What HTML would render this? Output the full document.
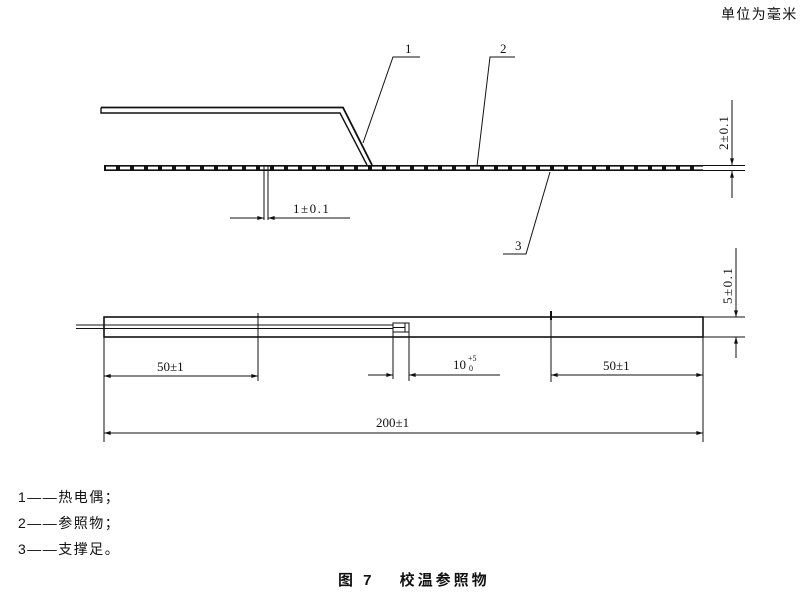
<!DOCTYPE html>
<html><head><meta charset="utf-8"><style>
html,body{margin:0;padding:0;background:#fff;}
svg{display:block}
text{font-family:"Liberation Serif","Noto Serif CJK SC",serif;fill:#111}
.c{font-family:"Liberation Sans","Noto Sans CJK SC",sans-serif}
</style></head><body>
<svg width="809" height="596" viewBox="0 0 809 596" xmlns="http://www.w3.org/2000/svg">
<defs>
<marker id="a" viewBox="0 0 10 6" refX="10" refY="3" markerWidth="8" markerHeight="4" orient="auto-start-reverse" markerUnits="userSpaceOnUse"><path d="M0,0L10,3L0,6z" fill="#111"/></marker>
</defs>
<g stroke="#111" fill="none">
<text x="721" y="19" class="c" font-size="14" letter-spacing="1.3" stroke="none">单位为毫米</text>
<path d="M101,107.5 H343 L372,165" stroke-width="1.8"/>
<path d="M101,107.5 V113 H340 L367,165" stroke-width="1.4"/>
<rect x="104" y="165" width="599" height="6" fill="#111" stroke="none"/>
<line x1="106" y1="168" x2="703" y2="168" stroke="#fff" stroke-width="2.8" stroke-dasharray="10,4"/>
<line x1="703" y1="165.5" x2="745" y2="165.5" stroke-width="1"/>
<line x1="703" y1="170.5" x2="745" y2="170.5" stroke-width="1"/>
<polyline points="363,143 393,57 420,57" stroke-width="1"/>
<text x="405" y="53" font-size="13" stroke="none">1</text>
<polyline points="477,166 490,57 515,57" stroke-width="1"/>
<text x="500" y="53" font-size="13" stroke="none">2</text>
<polyline points="550,172 526,254 503,254" stroke-width="1"/>
<text x="515" y="250" font-size="13" stroke="none">3</text>
<line x1="732" y1="100" x2="732" y2="165" stroke-width="1" marker-end="url(#a)"/>
<line x1="732" y1="198" x2="732" y2="171" stroke-width="1" marker-end="url(#a)"/>
<text transform="translate(728,150) rotate(-90)" font-size="13" letter-spacing="1" stroke="none">2±0.1</text>
<line x1="264" y1="166" x2="264" y2="220" stroke-width="1"/>
<line x1="268" y1="166" x2="268" y2="220" stroke-width="1"/>
<line x1="230" y1="218" x2="264" y2="218" stroke-width="1" marker-end="url(#a)"/>
<line x1="350" y1="218" x2="268" y2="218" stroke-width="1" marker-end="url(#a)"/>
<text x="293" y="213" font-size="13" letter-spacing="1.5" stroke="none">1±0.1</text>
<rect x="104" y="317" width="599" height="20" stroke-width="1.6"/>
<line x1="76" y1="325" x2="393" y2="325" stroke-width="1"/>
<line x1="76" y1="328.5" x2="393" y2="328.5" stroke-width="1"/>
<rect x="393" y="323" width="16" height="9" stroke-width="1"/>
<line x1="405" y1="323" x2="405" y2="332" stroke-width="1"/>
<line x1="393" y1="327.5" x2="405" y2="327.5" stroke-width="1"/>
<line x1="258" y1="313" x2="258" y2="381" stroke-width="1"/>
<line x1="393" y1="330" x2="393" y2="379" stroke-width="1"/>
<line x1="409" y1="332" x2="409" y2="381" stroke-width="1"/>
<line x1="551" y1="311" x2="551" y2="382" stroke-width="1"/>
<line x1="551" y1="311" x2="551" y2="320" stroke-width="2"/>
<line x1="703" y1="337" x2="703" y2="442" stroke-width="1"/>
<line x1="104" y1="337" x2="104" y2="442" stroke-width="1"/>
<line x1="703" y1="317" x2="745" y2="317" stroke-width="1"/>
<line x1="703" y1="337" x2="745" y2="337" stroke-width="1"/>
<line x1="736" y1="248" x2="736" y2="317" stroke-width="1" marker-end="url(#a)"/>
<line x1="736" y1="358" x2="736" y2="337" stroke-width="1" marker-end="url(#a)"/>
<text transform="translate(732,304) rotate(-90)" font-size="13" letter-spacing="1.5" stroke="none">5±0.1</text>
<line x1="104" y1="376" x2="258" y2="376" stroke-width="1" marker-start="url(#a)" marker-end="url(#a)"/>
<text x="157" y="371" font-size="13" stroke="none">50±1</text>
<line x1="368" y1="375" x2="393" y2="375" stroke-width="1" marker-end="url(#a)"/>
<line x1="500" y1="375" x2="409" y2="375" stroke-width="1" marker-end="url(#a)"/>
<text x="453" y="369" font-size="13" stroke="none">10</text>
<text x="468" y="361" font-size="8" stroke="none">+5</text>
<text x="469" y="371" font-size="8" stroke="none">0</text>
<line x1="551" y1="375" x2="703" y2="375" stroke-width="1" marker-start="url(#a)" marker-end="url(#a)"/>
<text x="603" y="370" font-size="13" stroke="none">50±1</text>
<line x1="104" y1="433" x2="703" y2="433" stroke-width="1" marker-start="url(#a)" marker-end="url(#a)"/>
<text x="376" y="427" font-size="13" stroke="none">200±1</text>
</g>
<g font-size="14">
<text x="18" y="502" class="c" letter-spacing="1.5">1——热电偶；</text>
<text x="18" y="528" class="c" letter-spacing="1.5">2——参照物；</text>
<text x="18" y="554" class="c" letter-spacing="1.5">3——支撑足。</text>
<text x="338" y="585" class="c" font-size="15" font-weight="bold" letter-spacing="3">图 7　 校温参照物</text>
</g>
</svg>
</body></html>
